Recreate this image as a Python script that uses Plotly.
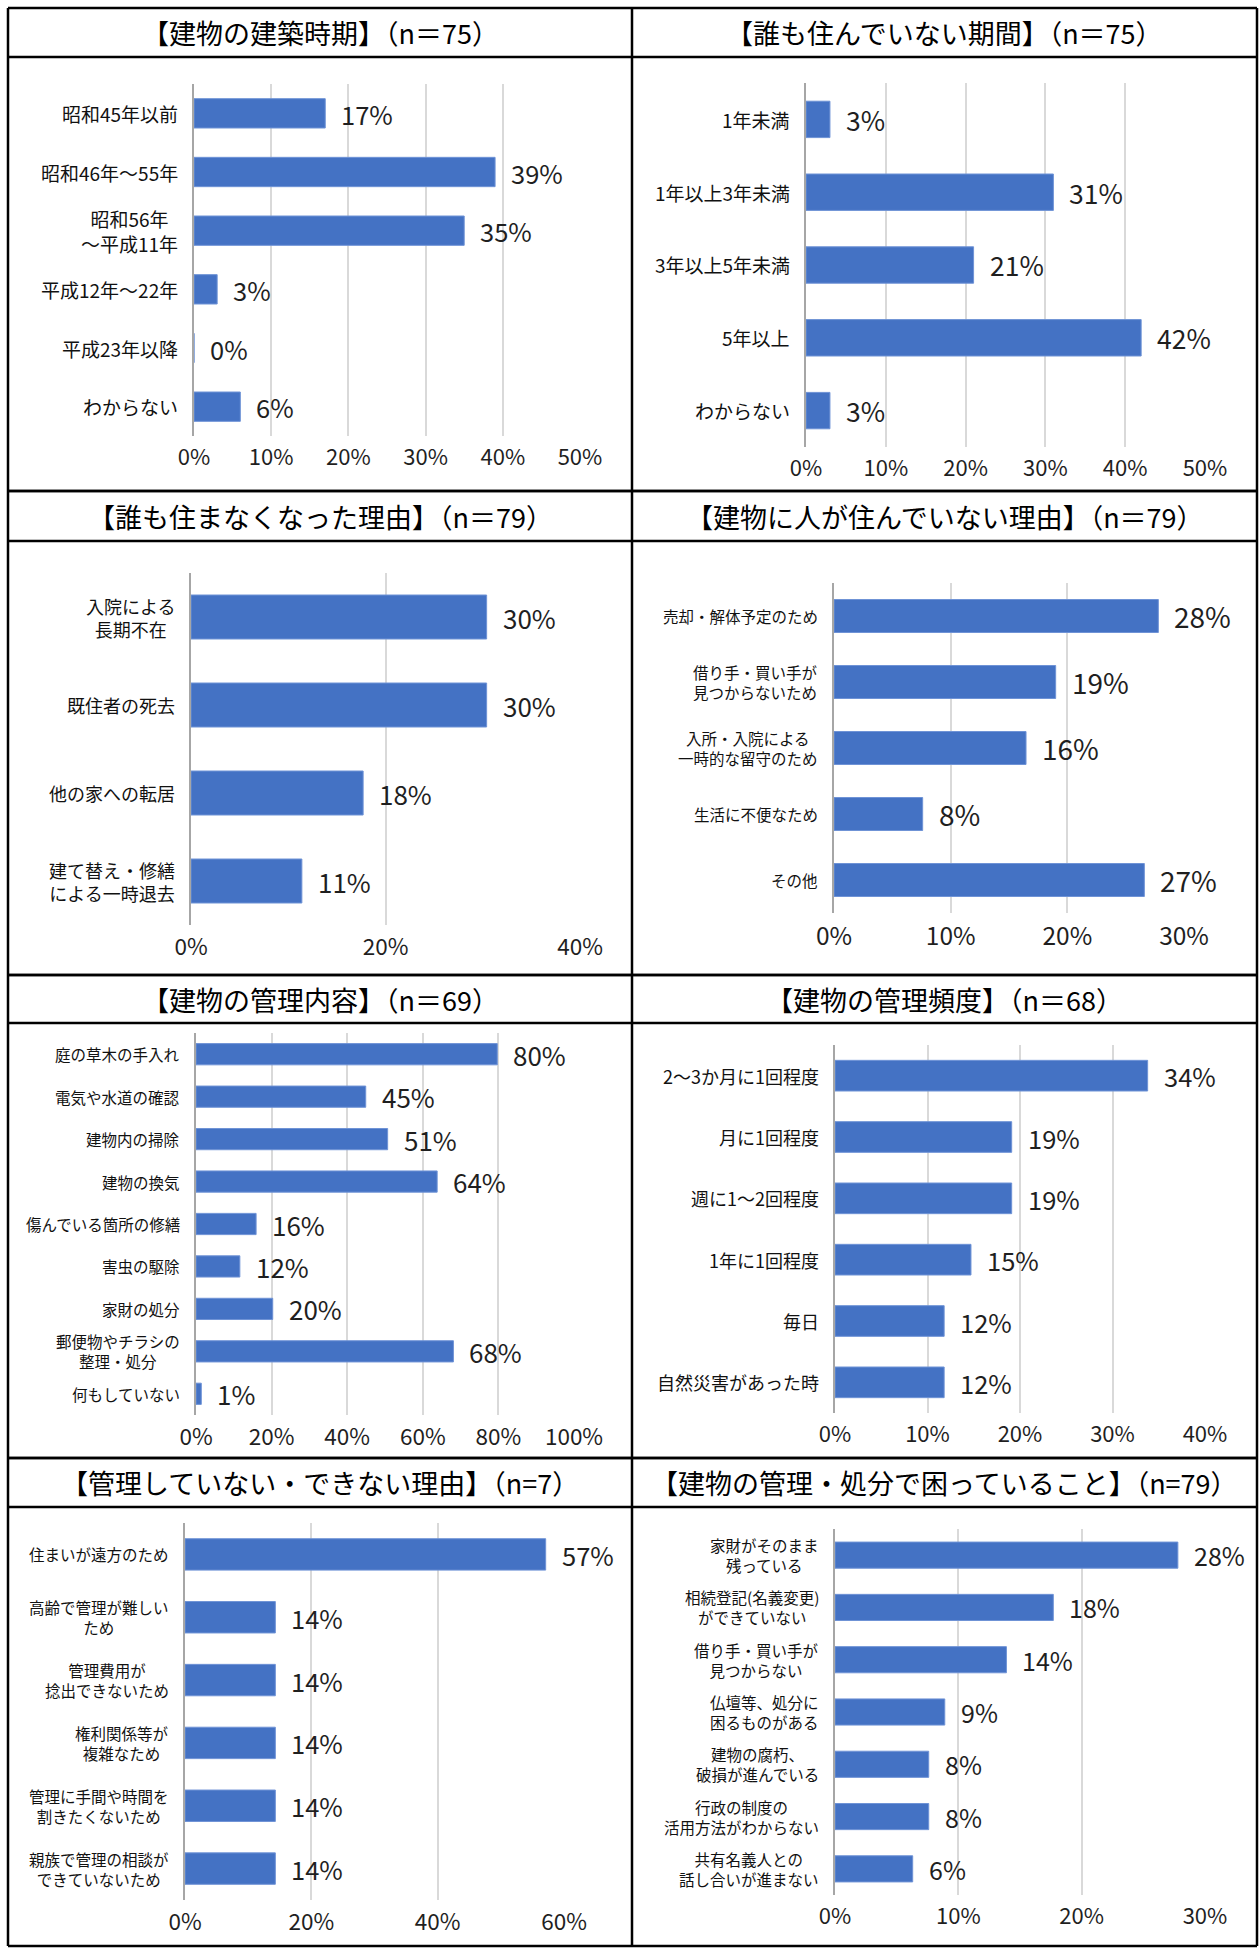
import plotly.graph_objects as go

W, H = 1260, 1948
BLUE = "#4472c4"
FONT = "Noto Sans CJK JP"

# 【建物の建築時期】
age_cats = ["昭和45年以前", "昭和46年～55年", "昭和56年<br>～平成11年", "平成12年～22年", "平成23年以降", "わからない"]
age_vals = [17, 39, 35, 3, 0, 6]

# 【誰も住んでいない期間】
vacant_cats = ["1年未満", "1年以上3年未満", "3年以上5年未満", "5年以上", "わからない"]
vacant_vals = [3, 31, 21, 42, 3]

# 【誰も住まなくなった理由】
left_cats = ["入院による<br>長期不在", "既住者の死去", "他の家への転居", "建て替え・修繕<br>による一時退去"]
left_vals = [30.4, 30.4, 17.7, 11.4]

# 【建物に人が住んでいない理由】
empty_cats = ["売却・解体予定のため", "借り手・買い手が<br>見つからないため", "入所・入院による<br>一時的な留守のため", "生活に不便なため", "その他"]
empty_vals = [27.8, 19.0, 16.46, 7.6, 26.6]

# 【建物の管理内容】
care_cats = ["庭の草木の手入れ", "電気や水道の確認", "建物内の掃除", "建物の換気", "傷んでいる箇所の修繕",
             "害虫の駆除", "家財の処分", "郵便物やチラシの<br>整理・処分", "何もしていない"]
care_vals = [79.7, 44.9, 50.7, 63.8, 15.9, 11.6, 20.3, 68.1, 1.4]

# 【建物の管理頻度】
freq_cats = ["2～3か月に1回程度", "月に1回程度", "週に1～2回程度", "1年に1回程度", "毎日", "自然災害があった時"]
freq_vals = [33.8, 19.1, 19.1, 14.7, 11.8, 11.8]

# 【管理していない・できない理由】
nocare_cats = ["住まいが遠方のため", "高齢で管理が難しい<br>ため", "管理費用が<br>捻出できないため",
               "権利関係等が<br>複雑なため", "管理に手間や時間を<br>割きたくないため", "親族で管理の相談が<br>できていないため"]
nocare_vals = [57.1, 14.3, 14.3, 14.3, 14.3, 14.3]

# 【建物の管理・処分で困っていること】
trouble_cats = ["家財がそのまま<br>残っている", "相続登記(名義変更)<br>ができていない", "借り手・買い手が<br>見つからない",
                "仏壇等、処分に<br>困るものがある", "建物の腐朽、<br>破損が進んでいる", "行政の制度の<br>活用方法がわからない",
                "共有名義人との<br>話し合いが進まない"]
trouble_vals = [27.8, 17.7, 13.9, 8.9, 7.6, 7.6, 6.3]

titles = ["【建物の建築時期】（n＝75）", "【誰も住んでいない期間】（n＝75）",
          "【誰も住まなくなった理由】（n＝79）", "【建物に人が住んでいない理由】（n＝79）",
          "【建物の管理内容】（n＝69）", "【建物の管理頻度】（n＝68）",
          "【管理していない・できない理由】（n=7）", "【建物の管理・処分で困っていること】（n=79）"]

# per panel, in pixels: plot x span, plot y span, axis max, tick step,
# font sizes for category labels, value labels and tick labels
panels = [
    (age_cats, age_vals, (194, 580), (84, 436), 50, 10, (19, 25.5, 22)),
    (vacant_cats, vacant_vals, (806, 1205), (83, 447), 50, 10, (19, 26.5, 22)),
    (left_cats, left_vals, (191, 580), (573, 925), 40, 20, (18, 26, 22.5)),
    (empty_cats, empty_vals, (834, 1184), (583, 913), 30, 10, (15.5, 28, 24.5)),
    (care_cats, care_vals, (196, 574), (1033, 1415), 100, 20, (15.5, 26, 22.5)),
    (freq_cats, freq_vals, (835, 1205), (1045, 1413), 40, 10, (18, 25.5, 22)),
    (nocare_cats, nocare_vals, (185, 564), (1523, 1900), 60, 20, (15.5, 25.5, 22.5)),
    (trouble_cats, trouble_vals, (835, 1205), (1529, 1895), 30, 10, (15.5, 25, 22)),
]

rows = [(8, 57, 491), (491, 541, 975), (975, 1023, 1458), (1458, 1507, 1946)]
cols = [(8, 632), (632, 1257)]


def px(x):
    return x / W


def py(y):
    return 1 - y / H


fig = go.Figure()
annotations = []
layout = {}

for i, (cats, vals, (x0, x1), (y0, y1), xmax, step, (lsize, vsize, tsize)) in enumerate(panels):
    k = i + 1
    xa = "x" if k == 1 else f"x{k}"
    ya = "y" if k == 1 else f"y{k}"
    fig.add_trace(go.Bar(
        x=vals, y=cats, orientation="h",
        xaxis=xa, yaxis=ya,
        marker=dict(color=BLUE, line=dict(color="#6f93d6", width=1)),
        hoverinfo="skip", showlegend=False,
    ))
    layout["xaxis" if k == 1 else f"xaxis{k}"] = dict(
        domain=[px(x0), px(x1)], anchor=ya, range=[0, xmax], dtick=step,
        ticksuffix="%", showgrid=True, gridcolor="#d9d9d9", gridwidth=2,
        zeroline=False, showline=False, ticks="", ticklabelstandoff=6,
        automargin=False,
        tickfont=dict(size=tsize, color="#1f1f1f"), fixedrange=True,
    )
    layout["yaxis" if k == 1 else f"yaxis{k}"] = dict(
        domain=[py(y1), py(y0)], anchor=xa, type="category",
        autorange="reversed", showticklabels=False, showgrid=False,
        showline=True, linecolor="#a6a6a6", linewidth=2, ticks="", fixedrange=True,
        automargin=False,
    )
    for c, v in zip(cats, vals):
        # category label
        annotations.append(dict(
            xref=f"{xa} domain", yref=ya, x=0, y=c, xanchor="right", xshift=-14,
            text=c, showarrow=False, align="center",
            font=dict(size=lsize, color="#111111"),
        ))
        # value label
        annotations.append(dict(
            xref=xa, yref=ya, x=v, y=c, xanchor="left", xshift=14,
            text=f"{v:.0f}%", showarrow=False,
            font=dict(size=vsize, color="#1f1f1f"),
        ))
    r, c = divmod(i, 2)
    top, sep, bottom = rows[r]
    cl, cr = cols[c]
    annotations.append(dict(
        xref="paper", yref="paper", x=px((cl + cr) / 2), y=py((top + sep) / 2),
        xanchor="center", yanchor="middle", text=titles[i], showarrow=False,
        font=dict(size=27, color="#000000"),
    ))

shapes = []
for top, sep, bottom in rows:
    for y in (top, sep, bottom):
        shapes.append(dict(type="line", xref="paper", yref="paper",
                           x0=px(8), x1=px(1257), y0=py(y), y1=py(y),
                           line=dict(color="#000000", width=2.5)))
for x in (8, 632, 1257):
    shapes.append(dict(type="line", xref="paper", yref="paper",
                       x0=px(x), x1=px(x), y0=py(8), y1=py(1946),
                       line=dict(color="#000000", width=2.5)))

fig.update_layout(
    width=W, height=H,
    margin=dict(l=0, r=0, t=0, b=0, pad=0),
    paper_bgcolor="white", plot_bgcolor="white",
    font=dict(family=FONT, color="#1f1f1f"),
    bargap=0.5,
    annotations=annotations,
    shapes=shapes,
    **layout,
)

fig.write_html("out.html", config={"displayModeBar": False},
               post_script="document.body.style.margin='0';document.body.style.overflow='hidden';")
